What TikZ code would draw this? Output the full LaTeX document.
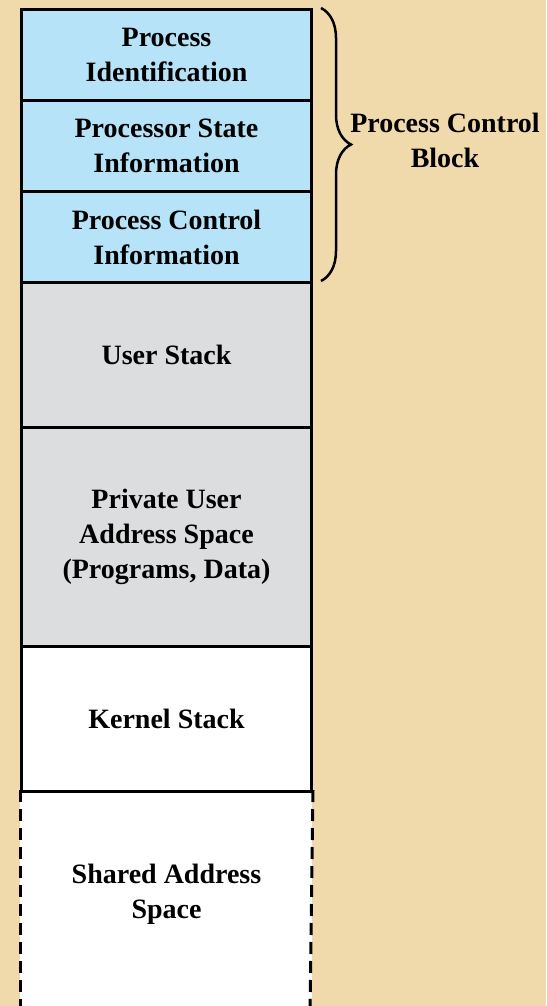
\documentclass[tikz,border=0pt]{standalone}
\usepackage{fontspec}
\setmainfont{Liberation Serif}
\usetikzlibrary{decorations.pathreplacing}
\definecolor{parchment}{HTML}{F0DAAC}
\definecolor{pcbblue}{HTML}{B7E3F8}
\definecolor{usergray}{HTML}{DCDDDF}
\begin{document}
\begin{tikzpicture}[x=1pt,y=-1pt]
\tikzset{field/.style = {draw, line width=3pt, minimum width=290pt, inner sep=0pt, anchor=north west, align=center, font=\fontsize{28}{35}\selectfont\bfseries}}
\fill[parchment] (0,0) rectangle (546,1006);
\useasboundingbox (0,0) rectangle (546,1006);
\fill[white] (20,790) rectangle (310,1010);
\node[field, fill=white, draw=none, minimum height=206pt] (shared) at (20,790) {Shared Address\\Space};
\draw[line width=3pt, dash pattern=on 12pt off 7pt] (shared.north west) -- (20,1010);
\draw[line width=3pt, dash pattern=on 12pt off 7pt] (shared.north east) -- (310,1010);
\node[field, fill=pcbblue, minimum height=91pt] (pid) at (20,8) {Process\\Identification};
\node[field, fill=pcbblue, minimum height=91pt] (state) at (20,99) {Processor State\\Information};
\node[field, fill=pcbblue, minimum height=91pt] (pci) at (20,190) {Process Control\\Information};
\node[field, fill=usergray, minimum height=145pt] (ustack) at (20,281) {User Stack};
\node[field, fill=usergray, minimum height=219pt] (private) at (20,426) {Private User\\Address Space\\(Programs, Data)};
\node[field, fill=white, minimum height=145pt] (kstack) at (20,645) {Kernel Stack};
\draw[decorate, decoration={brace, amplitude=30pt}, line width=2.5pt] (321,8) -- (321,281);
\node[font=\fontsize{28}{35}\selectfont\bfseries, align=center] (pcb) at (445,140) {Process Control\\Block};
\end{tikzpicture}
\end{document}
